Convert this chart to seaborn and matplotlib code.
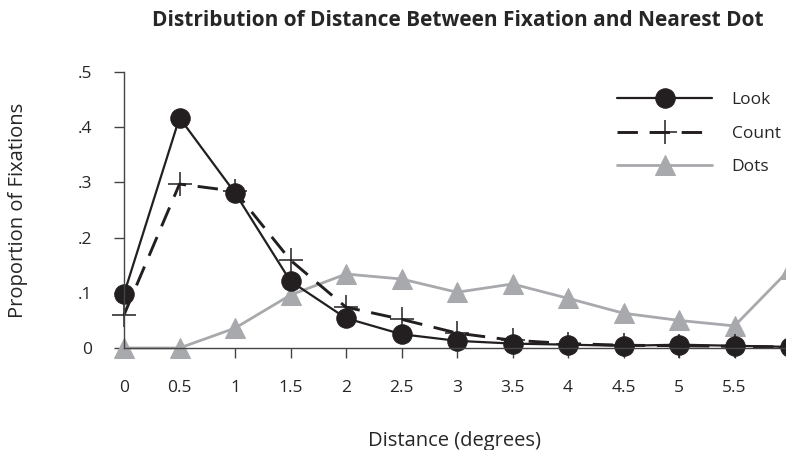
import numpy as np
import pandas as pd
import seaborn as sns
import matplotlib.pyplot as plt

# values
distance = [0, 0.5, 1, 1.5, 2, 2.5, 3, 3.5, 4, 4.5, 5, 5.5, 6]
look = [0.098, 0.417, 0.281, 0.121, 0.054, 0.025, 0.013, 0.008, 0.006, 0.004, 0.006, 0.004, 0.002]
count = [0.060, 0.297, 0.284, 0.159, 0.074, 0.052, 0.027, 0.014, 0.008, 0.005, 0.004, 0.003, 0.002]
dots = [0.0, 0.0, 0.036, 0.096, 0.134, 0.125, 0.101, 0.116, 0.090, 0.063, 0.050, 0.040, 0.143]

x_ticks = [0, 0.5, 1, 1.5, 2, 2.5, 3, 3.5, 4, 4.5, 5, 5.5]
x_tick_labels = ['0', '0.5', '1', '1.5', '2', '2.5', '3', '3.5', '4', '4.5', '5', '5.5']
y_ticks = [0, 0.1, 0.2, 0.3, 0.4, 0.5]
y_tick_labels = ['0', '.1', '.2', '.3', '.4', '.5']

dark = '#231f20'
grey = '#a7a9ac'

sns.set_theme(style='ticks')
plt.rcParams['font.family'] = ['Open Sans', 'DejaVu Sans']

fig = plt.figure(figsize=(7.86, 4.5), dpi=100)
ax = fig.add_axes([124 / 786, 102 / 450, 1 - 124 / 786, 276 / 450])

df = pd.DataFrame({'distance': distance, 'Look': look, 'Count': count, 'Dots': dots})

sns.lineplot(data=df, x='distance', y='Dots', ax=ax, color=grey, lw=2,
             marker='^', markersize=15, markeredgecolor=grey, clip_on=False, label='Dots')
sns.lineplot(data=df, x='distance', y='Count', ax=ax, color=dark, lw=2.1,
             marker='+', markersize=17, markeredgewidth=1.1, markeredgecolor=dark,
             dashes=(7, 4), clip_on=False, label='Count')
sns.lineplot(data=df, x='distance', y='Look', ax=ax, color=dark, lw=1.6,
             marker='o', markersize=14, markeredgecolor=dark, clip_on=False, label='Look')

ax.set_xlim(0, (786 - 124) / 111)
ax.set_ylim(0, 0.5)
ax.set_xticks(x_ticks)
ax.set_xticklabels(x_tick_labels, fontsize=12.5)
ax.set_yticks(y_ticks)
ax.set_yticklabels(y_tick_labels, fontsize=12.5)
ax.tick_params(axis='x', length=7, width=1, color='#444444', pad=16, direction='out')
ax.tick_params(axis='y', length=7, width=1, color='#444444', pad=16, direction='out')
for side in ['top', 'right']:
    ax.spines[side].set_visible(False)
for side in ['left', 'bottom']:
    ax.spines[side].set_color('#444444')
    ax.spines[side].set_linewidth(1)

ax.set_xlabel('Distance (degrees)', fontsize=14.5, labelpad=25)
ax.set_ylabel('Proportion of Fixations', fontsize=14.5, labelpad=36)

handles, labels = ax.get_legend_handles_labels()
order = [labels.index(k) for k in ['Look', 'Count', 'Dots']]
ax.legend([handles[i] for i in order], [labels[i] for i in order],
          loc='upper left', bbox_to_anchor=(617 / 786, 1 - 92 / 450),
          bbox_transform=fig.transFigure, frameon=False, fontsize=12.5,
          handlelength=5.5, numpoints=1, labelspacing=1.0, handletextpad=1.1,
          borderaxespad=0, borderpad=0)

fig.text(458 / 786, 1 - 20 / 450, 'Distribution of Distance Between Fixation and Nearest Dot',
         ha='center', va='center', fontsize=15, fontweight='bold')

fig.savefig('out.png', dpi=100)
